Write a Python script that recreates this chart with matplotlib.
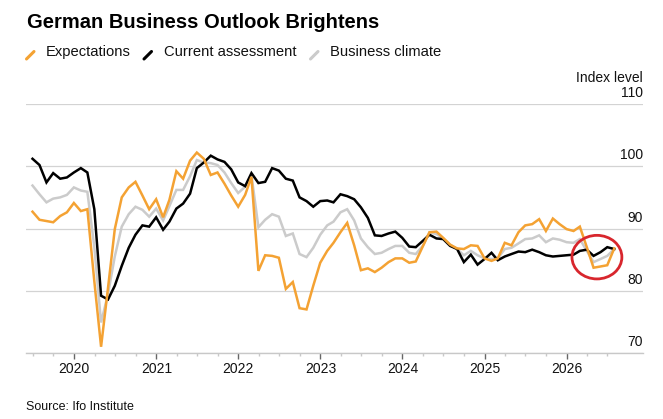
import matplotlib
matplotlib.use('Agg')
import matplotlib.pyplot as plt
import matplotlib.dates as mdates
import matplotlib.transforms as mtransforms
from matplotlib.patches import Ellipse
from matplotlib.lines import Line2D
import pandas as pd

plt.rcParams['font.family'] = ['Liberation Sans', 'DejaVu Sans']

# ---------------- data (monthly, Jun 2019 .. Jul 2026) ----------------
start_month = '2019-06-30'

expectations = [
    92.7, 91.4, 91.2, 91.0, 92.0, 92.6, 94.1, 92.8, 93.1, 81.5,
    71.0, 80.5, 89.9, 95.0, 96.6, 97.5, 95.3, 93.1, 94.7, 91.8,
    94.6, 99.2, 98.0, 100.9, 102.2, 101.2, 98.6, 99.0, 97.2, 95.3,
    93.5, 95.4, 98.3, 83.2, 85.7, 85.6, 85.3, 80.3, 81.4, 77.2,
    77.0, 80.8, 84.5, 86.4, 87.7, 89.4, 90.9, 87.3, 83.3, 83.6,
    83.0, 83.7, 84.6, 85.2, 85.2, 84.5, 84.7, 87.1, 89.4, 89.5,
    88.5, 87.4, 86.8, 86.7, 87.3, 87.2, 85.2, 84.8, 85.2, 87.7,
    87.3, 89.4, 90.5, 90.7, 91.5, 89.6, 91.6, 90.7, 89.9, 89.6,
    90.3, 87.0, 83.7, 83.9, 84.1, 86.8,
]

current_assessment = [
    101.2, 100.2, 97.4, 98.9, 98.0, 98.2, 99.0, 99.7, 99.0, 93.1,
    79.2, 78.6, 80.8, 84.0, 86.9, 89.0, 90.5, 90.3, 91.8, 89.8,
    91.1, 93.2, 94.0, 95.6, 99.7, 100.6, 101.7, 101.1, 100.7, 99.5,
    97.4, 96.8, 98.9, 97.3, 97.5, 99.7, 99.3, 98.0, 97.7, 95.0,
    94.4, 93.5, 94.4, 94.5, 94.2, 95.5, 95.2, 94.7, 93.4, 91.7,
    88.9, 88.8, 89.2, 89.5, 88.5, 87.1, 87.0, 88.0, 89.0, 88.4,
    88.3, 87.2, 86.7, 84.6, 85.8, 84.2, 85.1, 86.1, 84.9, 85.5,
    85.9, 86.3, 86.2, 86.6, 86.2, 85.7, 85.5, 85.6, 85.7, 85.8,
    86.4, 86.6, 85.6, 86.2, 87.0, 86.7,
]

business_climate = [
    96.9, 95.5, 94.2, 94.8, 95.0, 95.4, 96.6, 96.1, 95.9, 87.0,
    74.9, 79.5, 85.5, 90.3, 92.3, 93.5, 93.0, 91.9, 93.2, 91.3,
    93.6, 96.2, 96.2, 98.4, 101.0, 100.6, 100.5, 100.2, 99.0, 97.3,
    95.7, 96.7, 98.6, 90.2, 91.4, 92.3, 91.9, 88.8, 89.2, 85.9,
    85.4, 86.9, 89.0, 90.5, 91.1, 92.6, 93.1, 91.3, 88.4, 87.0,
    85.9, 86.1, 86.7, 87.2, 87.2, 86.1, 85.9, 87.2, 89.4, 89.1,
    88.4, 87.4, 86.7, 85.7, 86.4, 85.7, 85.2, 85.1, 85.2, 86.7,
    86.9, 87.6, 88.3, 88.4, 88.9, 87.8, 88.4, 88.2, 87.8, 87.7,
    88.3, 86.4, 84.6, 85.1, 85.6, 86.7,
]

years = [2020, 2021, 2022, 2023, 2024, 2025, 2026]
y_levels = [70, 80, 90, 100, 110]
series_names = ['Expectations', 'Current assessment', 'Business climate']

# ---------------- styling ----------------
C_ORANGE = '#f4a233'
C_BLACK = '#000000'
C_GRAY = '#cbcbcb'
C_GRID = '#d3d3d3'

W, H = 663, 419
fig = plt.figure(figsize=(W / 100, H / 100), dpi=100)
ax = fig.add_axes([26 / W, (H - 353) / H, (643 - 26) / W, (353 - 104) / H])

dates = pd.date_range(start_month, periods=len(expectations), freq='ME')

ax.plot(dates, business_climate, color=C_GRAY, lw=1.8, zorder=3,
        solid_joinstyle='miter')
ax.plot(dates, current_assessment, color=C_BLACK, lw=1.8, zorder=4,
        solid_joinstyle='miter')
ax.plot(dates, expectations, color=C_ORANGE, lw=1.8, zorder=5,
        solid_joinstyle='miter')

ax.set_xlim(pd.Timestamp('2019-06-01'), pd.Timestamp('2026-12-06'))
ax.set_ylim(70, 110)

for s in ['top', 'left', 'right']:
    ax.spines[s].set_visible(False)
ax.spines['bottom'].set_color('#c8c8c8')
ax.spines['bottom'].set_linewidth(1.0)

ax.set_yticks(y_levels)
ax.tick_params(axis='y', left=False, labelleft=False)
ax.yaxis.grid(True, color=C_GRID, lw=0.9)
ax.set_axisbelow(True)

trans = mtransforms.blended_transform_factory(ax.transAxes, ax.transData)
for v in y_levels:
    ax.annotate(str(v), xy=(1.0, v), xycoords=trans, xytext=(0, 5),
                textcoords='offset points', ha='right', va='baseline',
                fontsize=10, color='#111111')

major = [pd.Timestamp(f'{y}-01-01') for y in years]
ax.set_xticks(major)
ax.set_xticklabels([str(y) for y in years])
minor = [d for d in pd.date_range('2019-07-01', '2026-07-01', freq='QS')
         if d.month != 1]
ax.set_xticks(minor, minor=True)
ax.tick_params(axis='x', which='major', length=4.0, width=1.0,
               color='#666666', pad=2.6, labelsize=10, labelcolor='#111111')
ax.tick_params(axis='x', which='minor', length=2.2, width=1.0,
               color='#c8c8c8')

# red highlight circle
ell = Ellipse((mdates.date2num(pd.Timestamp('2026-05-15')), 85.4),
              width=222, height=7.0, fill=False, edgecolor='#d8262d',
              lw=2.0, zorder=6, clip_on=False)
ax.add_patch(ell)

# ---------------- texts ----------------
fig.text(27 / W, 1 - 27.5 / H, 'German Business Outlook Brightens',
         fontsize=14.5, fontweight='bold', ha='left', va='baseline',
         color='#000000')

legend_colors = [C_ORANGE, C_BLACK, C_GRAY]
legend_text_x = [46, 163.5, 330]
for name, col, tx in zip(series_names, legend_colors, legend_text_x):
    mx0 = tx - 19.5
    fig.add_artist(Line2D([mx0 / W, (mx0 + 7.5) / W],
                          [1 - 59 / H, 1 - 51.5 / H],
                          color=col, lw=2.2, solid_capstyle='round'))
    fig.text(tx / W, 1 - 56 / H, name, fontsize=10.6, ha='left',
             va='baseline', color='#111111')

fig.text(643 / W, 1 - 82 / H, 'Index level', fontsize=10, ha='right',
         va='baseline', color='#111111')

fig.text(26 / W, 1 - 410 / H, 'Source: Ifo Institute', fontsize=9,
         ha='left', va='baseline', color='#111111')

fig.savefig('out.png', dpi=100)
